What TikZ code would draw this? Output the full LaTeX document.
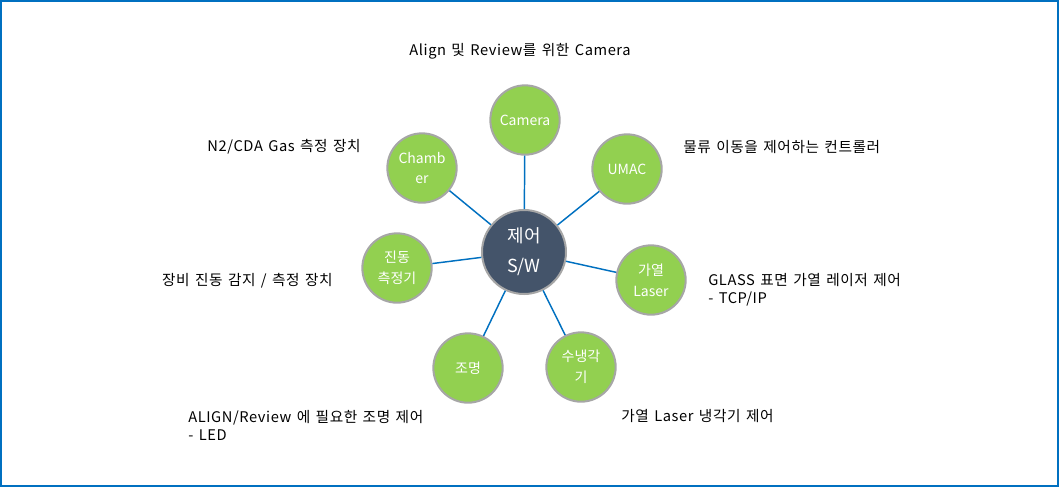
\documentclass[tikz,border=0pt]{standalone}
\usepackage{fontspec}
\setmainfont{Noto Sans CJK KR}
\newfontfamily\notefont[LetterSpace=4,WordSpace=1.4]{Noto Sans CJK KR}
\usepackage{xcolor}
\definecolor{leafgreen}{HTML}{92D050}
\definecolor{slateblue}{HTML}{44546A}
\definecolor{linkblue}{HTML}{0070C0}
\definecolor{rimgray}{HTML}{A6A6A6}
\tikzset{
  part/.style={circle,draw=rimgray,line width=1.5pt,fill=leafgreen,minimum size=52pt,inner sep=0pt,
    text=white,align=center,font=\fontsize{10.5}{15.5}\selectfont},
  core/.style={circle,draw=rimgray,line width=1.5pt,fill=slateblue,minimum size=63pt,inner sep=0pt,
    text=white,align=center,font=\fontsize{13.5}{22.5}\selectfont},
  link/.style={linkblue,line width=1.1pt},
  note/.style={font=\notefont\fontsize{11}{13.5}\selectfont,inner sep=0pt}
}

\begin{document}
\begin{tikzpicture}[x=0.75pt,y=-0.75pt]
\useasboundingbox (0,0) rectangle (1059,487);
\draw[linkblue,line width=1.5pt] (1,1) rectangle (1058,486);
% centre and the parts round it
\node[core] (sw) at (524,252) {제어\\S/W};
\foreach \n/\x/\y/\t in {cam/525/120/Camera, chb/422/168/Chamb\\er, umac/627/169/UMAC,
    vib/397/268/진동\\측정기, laser/651/280/가열\\Laser, lamp/468/368/조명, cool/581/367/수냉각\\기}
  \node[part] (\n) at (\x,\y) {\t};
\foreach \n in {cam,chb,umac,vib,laser,lamp,cool}
  \draw[link] (sw) -- (\n);
% notes
\node[note] (camtxt) at (520,51) {Align 및 Review를 위한 Camera};
\node[note,anchor=east] (chbtxt) at (361,147) {N2/CDA Gas 측정 장치};
\node[note,anchor=west] (umactxt) at (683,147) {물류 이동을 제어하는 컨트롤러};
\node[note,anchor=east] (vibtxt) at (333,281) {장비 진동 감지 / 측정 장치};
\node[note,anchor=west,align=left] (lasertxt) at (708,290) {GLASS 표면 가열 레이저 제어\\- TCP/IP};
\node[note,anchor=west,align=left] (lamptxt) at (188,425) {ALIGN/Review 에 필요한 조명 제어\\- LED};
\node[note,anchor=west] (cooltxt) at (621,416) {가열 Laser 냉각기 제어};
\end{tikzpicture}
\end{document}
